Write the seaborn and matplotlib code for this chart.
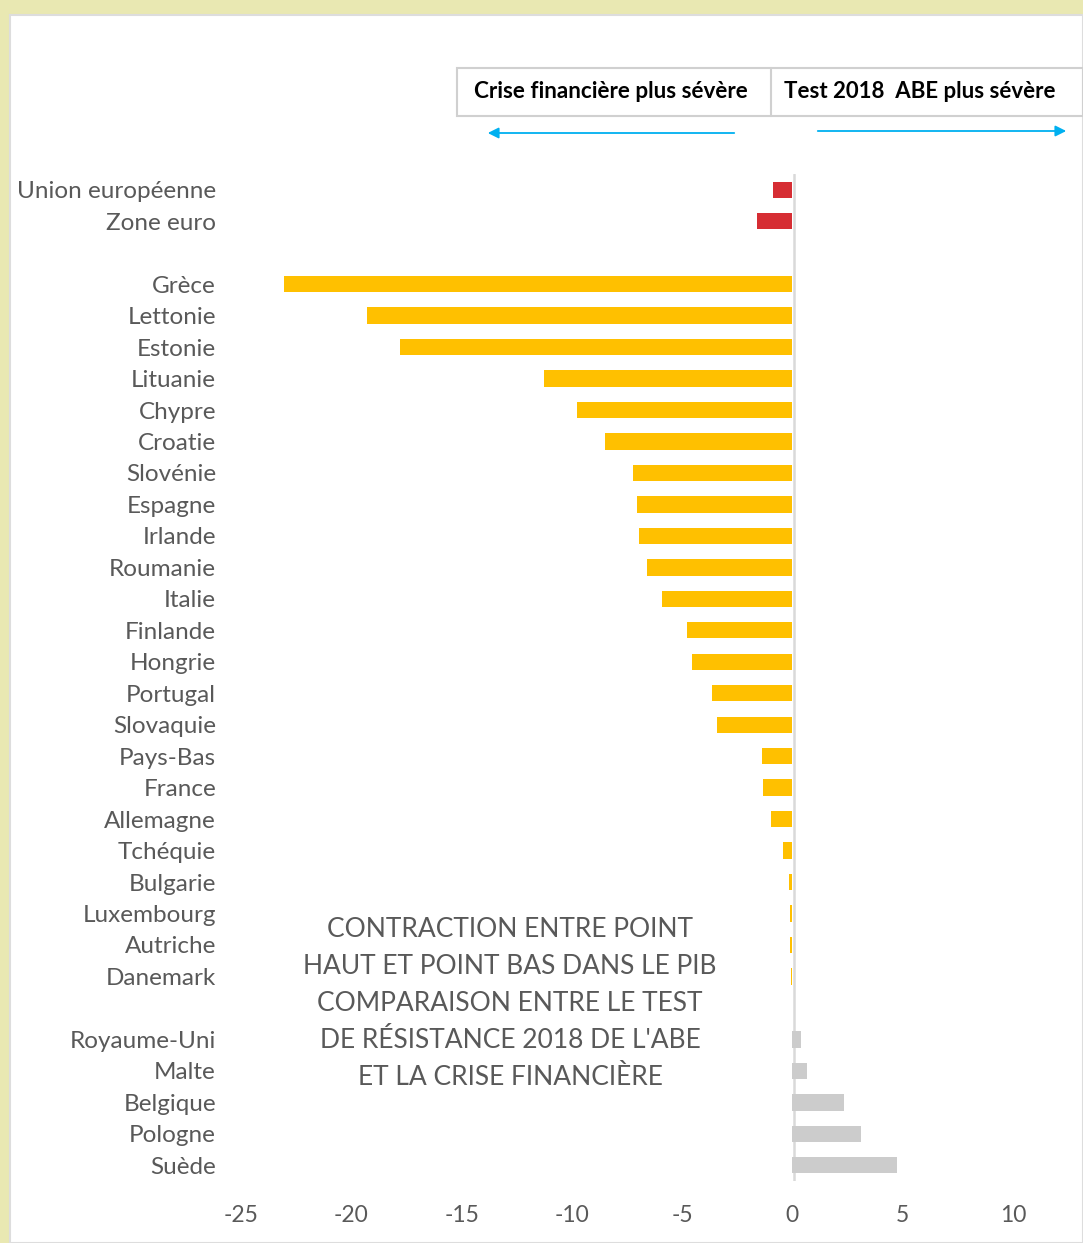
import matplotlib
matplotlib.use("Agg")
import matplotlib.pyplot as plt
import seaborn as sns
import pandas as pd
from matplotlib.patches import Rectangle, FancyArrowPatch

# données
pays_ue = ['Union européenne', 'Zone euro']
val_ue = [-0.9, -1.6]

pays_crise = ['Grèce', 'Lettonie', 'Estonie', 'Lituanie', 'Chypre', 'Croatie', 'Slovénie',
              'Espagne', 'Irlande', 'Roumanie', 'Italie', 'Finlande', 'Hongrie', 'Portugal',
              'Slovaquie', 'Pays-Bas', 'France', 'Allemagne', 'Tchéquie', 'Bulgarie',
              'Luxembourg', 'Autriche', 'Danemark']
val_crise = [-23.05, -19.3, -17.8, -11.25, -9.75, -8.5, -7.25, -7.05, -6.95, -6.6, -5.9,
             -4.8, -4.55, -3.65, -3.4, -1.4, -1.35, -0.95, -0.45, -0.16, -0.12, -0.12, -0.07]

pays_abe = ['Royaume-Uni', 'Malte', 'Belgique', 'Pologne', 'Suède']
val_abe = [0.4, 0.65, 2.35, 3.1, 4.75]

xticks = [-25, -20, -15, -10, -5, 0, 5, 10]

couleurs = {'ue': '#D62D33', 'crise': '#FFC000', 'abe': '#CCCCCC'}
gris_txt = '#595959'

df = pd.DataFrame({
    'pays': pays_ue + pays_crise + pays_abe,
    'valeur': val_ue + val_crise + val_abe,
    'groupe': ['ue'] * len(pays_ue) + ['crise'] * len(pays_crise) + ['abe'] * len(pays_abe),
})
# lignes vides entre les groupes
ordre = pays_ue + [' '] + pays_crise + ['  '] + pays_abe

sns.set_style('white')
plt.rcParams['font.family'] = ['Lato', 'DejaVu Sans']

W, H = 1083, 1243
fig = plt.figure(figsize=(W / 100, H / 100), dpi=100)
fig.patch.set_facecolor('#E9E8B2')
fig.patches.append(Rectangle((10 / W, 0), 1 - 10 / W, 1 - 15 / H, transform=fig.transFigure,
                             facecolor='white', edgecolor='#DDDDDD', lw=1.5, zorder=-5))

ax = fig.add_axes([241 / W, 1 - 1181 / H, (1013 - 241) / W, (1181 - 174) / H])
ax.set_facecolor('none')
ax.set_zorder(2)

# axe vertical en 0, juste à droite des barres
ax.axvline(0.07, color='#D9D9D9', lw=1.8, zorder=0)
sns.barplot(data=df, x='valeur', y='pays', hue='groupe', order=ordre, palette=couleurs,
            dodge=False, legend=False, orient='h', width=0.52, ax=ax, saturation=1,
            linewidth=0)

ax.set_xlim(-25, 10)
ax.set_ylim(len(ordre) - 0.5, -0.5)
for s in ax.spines.values():
    s.set_visible(False)
ax.set_xticks(xticks)
ax.set_xticklabels([str(t) for t in xticks])
ax.tick_params(axis='both', length=0, colors=gris_txt)
ax.tick_params(axis='x', pad=17, labelsize=16.5)
ax.tick_params(axis='y', pad=18, labelsize=17.5)
ax.set_xlabel('')
ax.set_ylabel('')
ax.grid(False)

# titre dans le graphique
ax.text(-12.8, 25.85, "CONTRACTION ENTRE POINT\nHAUT ET POINT BAS DANS LE PIB\n"
        "COMPARAISON ENTRE LE TEST\nDE RÉSISTANCE 2018 DE L'ABE\nET LA CRISE FINANCIÈRE",
        ha='center', va='center', fontsize=19, color=gris_txt, linespacing=1.6)

# encadré en haut
def fx(px):
    return px / W

def fy(py):
    return 1 - py / H

fig.patches.append(Rectangle((fx(457), fy(116)), fx(1083) - fx(457), fy(68) - fy(116),
                             transform=fig.transFigure, facecolor='none',
                             edgecolor='#D0D0D0', lw=1.5))
fig.lines.append(plt.Line2D([fx(771), fx(771)], [fy(116), fy(68)], transform=fig.transFigure,
                            color='#D0D0D0', lw=1.5))
fig.text(fx(611), fy(91), 'Crise financière plus sévère', ha='center', va='center',
         fontsize=16.2, fontweight='bold', color='black')
fig.text(fx(920), fy(91), 'Test 2018  ABE plus sévère', ha='center', va='center',
         fontsize=16.0, fontweight='bold', color='black')

for x0, x1, y in [(737, 485, 133), (815, 1069, 131)]:
    fig.patches.append(FancyArrowPatch((fx(x0), fy(y)), (fx(x1), fy(y)), transform=fig.transFigure,
                                       arrowstyle='-|>', mutation_scale=16, color='#00B0F0', lw=1.3))

fig.savefig('out.png', dpi=100, facecolor=fig.get_facecolor())
